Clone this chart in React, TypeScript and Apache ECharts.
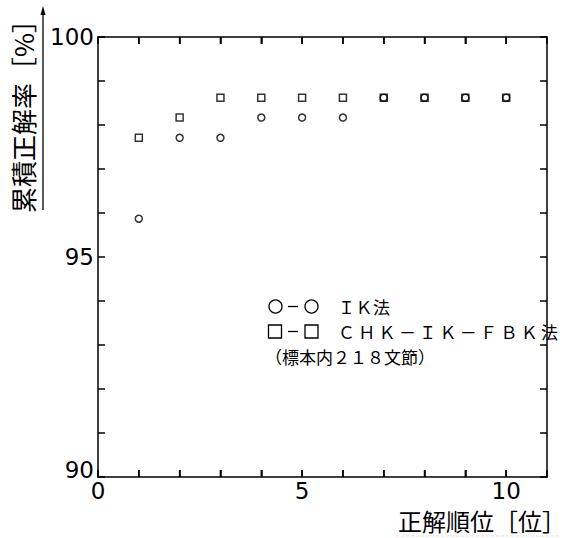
import React, { useEffect, useRef } from "react";
import * as echarts from "echarts";

const ranks = [1, 2, 3, 4, 5, 6, 7, 8, 9, 10];
const ikValues = [95.87, 97.71, 97.71, 98.17, 98.17, 98.17, 98.62, 98.62, 98.62, 98.62];
const chkValues = [97.71, 98.17, 98.62, 98.62, 98.62, 98.62, 98.62, 98.62, 98.62, 98.62];
const xTicks = [1, 2, 3, 4, 5, 6, 7, 8, 9, 10];
const xLabels = [0, 5, 10];
const yLabels = [90, 95, 100];
const yAxisName = "累積正解率［%］";
const xAxisName = "正解順位［位］";
const legendLine1Text = "ＩＫ法";
const legendLine2Text = "ＣＨＫ－ＩＫ－ＦＢＫ法";
const legendLine3Text = "（標本内２１８文節）";

const CJK = '"Noto Sans CJK JP", "Noto Sans", sans-serif';
const NUM = '"DejaVu Sans", sans-serif';

function charsAt(text: string, x0: number, y: number, step: number, size: number) {
  return Array.from(text).map((ch, i) => ({
    type: "text",
    x: x0 + i * step,
    y,
    style: { text: ch, font: `${size}px ${CJK}`, fill: "#000", verticalAlign: "middle" },
  }));
}

const stroke = { stroke: "#000", lineWidth: 1.3, fill: "none" };

export default function App() {
  const ref = useRef<HTMLDivElement>(null);
  useEffect(() => {
    if (!ref.current) return;
    const chart = echarts.init(ref.current, null, { renderer: "svg" });
    const axisLine = { show: true, onZero: false, lineStyle: { color: "#000", width: 1.5 } };
    const tick = { show: true, inside: true, length: 7, lineStyle: { color: "#000", width: 1.5 } };
    const yMin = 90;
    const yMax = 100;
    chart.setOption({
      animation: false,
      backgroundColor: "#fff",
      grid: { left: 98, right: 22, top: 37, bottom: 61, containLabel: false },
      xAxis: [
        {
          type: "value", min: 0, max: 11, interval: 1, position: "bottom",
          axisLine, axisTick: tick, splitLine: { show: false },
          axisLabel: {
            show: true, margin: 2, color: "#000", fontFamily: NUM, fontSize: 23,
            formatter: (v: number) => (xLabels.includes(v) ? String(v) : ""),
          },
        },
        {
          type: "value", min: 0, max: 11, interval: 1, position: "top",
          axisLine, axisTick: tick, splitLine: { show: false }, axisLabel: { show: false },
        },
      ],
      yAxis: [
        {
          type: "value", min: yMin, max: yMax, interval: 1, position: "left",
          axisLine, axisTick: tick, splitLine: { show: false },
          axisLabel: {
            show: true, margin: 4, color: "#000", fontFamily: NUM, fontSize: 23,
            formatter: (v: number) => (yLabels.includes(v) ? (v === 90 ? `{low|${v}}` : String(v)) : ""),
            rich: { low: { fontFamily: NUM, fontSize: 23, color: "#000", padding: [0, 0, 14, 0] } },
          },
        },
        {
          type: "value", min: yMin, max: yMax, interval: 1, position: "right",
          axisLine, axisTick: tick, splitLine: { show: false }, axisLabel: { show: false },
        },
      ],
      series: [
        {
          type: "custom", xAxisIndex: 0, yAxisIndex: 0, silent: true, clip: false,
          data: xTicks.map((v) => [v, yMin]),
          encode: { x: 0, y: 1 },
          renderItem: (_params: any, api: any) => {
            const v = api.value(0);
            const b = api.coord([v, yMin]);
            const t = api.coord([v, yMax]);
            const st = { stroke: "#000", lineWidth: 1.5 };
            return {
              type: "group",
              children: [
                { type: "line", shape: { x1: b[0], y1: b[1], x2: b[0], y2: b[1] - 7 }, style: st },
                { type: "line", shape: { x1: t[0], y1: t[1], x2: t[0], y2: t[1] + 7 }, style: st },
              ],
            };
          },
        },
        {
          type: "scatter", xAxisIndex: 0, yAxisIndex: 0,
          data: ranks.map((r, i) => [r, chkValues[i]]),
          symbol: "rect", symbolSize: 7,
          itemStyle: { color: "rgba(0,0,0,0)", borderColor: "#000", borderWidth: 1.5 },
        },
        {
          type: "scatter", xAxisIndex: 0, yAxisIndex: 0,
          data: ranks.map((r, i) => [r, ikValues[i]]),
          symbol: "circle", symbolSize: 7,
          itemStyle: { color: "rgba(0,0,0,0)", borderColor: "#000", borderWidth: 1.5 },
        },
      ],
      graphic: [
        {
          type: "text", x: 22, y: 110, rotation: Math.PI / 2,
          style: { text: yAxisName, font: `26px ${CJK}`, fill: "#000", align: "center", verticalAlign: "middle" },
        },
        { type: "line", shape: { x1: 43, y1: 210, x2: 43, y2: 12 }, style: { stroke: "#000", lineWidth: 1.3 } },
        { type: "polygon", shape: { points: [[43, 6], [40.5, 15], [45.5, 15]] }, style: { fill: "#000" } },
        {
          type: "text", x: 398, y: 520,
          style: { text: xAxisName, font: `24px ${CJK}`, fill: "#000", align: "left", verticalAlign: "middle" },
        },
        { type: "line", shape: { x1: 396, y1: 536, x2: 560, y2: 536 }, style: { stroke: "#ddd", lineWidth: 1, lineDash: [3, 2] } },
        { type: "circle", shape: { cx: 275.5, cy: 306.5, r: 6.5 }, style: stroke },
        { type: "line", shape: { x1: 288, y1: 306.5, x2: 298, y2: 306.5 }, style: stroke },
        { type: "circle", shape: { cx: 311.5, cy: 306.5, r: 6.5 }, style: stroke },
        ...charsAt(legendLine1Text, 338, 306, 17.5, 17),
        { type: "rect", shape: { x: 268.5, y: 325, width: 13, height: 13 }, style: stroke },
        { type: "line", shape: { x1: 288, y1: 331.5, x2: 298, y2: 331.5 }, style: stroke },
        { type: "rect", shape: { x: 305, y: 325, width: 13, height: 13 }, style: stroke },
        ...charsAt(legendLine2Text, 338, 331, 20.3, 17),
        {
          type: "text", x: 265, y: 356,
          style: { text: legendLine3Text, font: `17px ${CJK}`, fill: "#000", verticalAlign: "middle" },
        },
      ],
    });
    return () => chart.dispose();
  }, []);
  return <div ref={ref} style={{ position: "fixed", left: 0, top: 0, width: 569, height: 538 }} />;
}
